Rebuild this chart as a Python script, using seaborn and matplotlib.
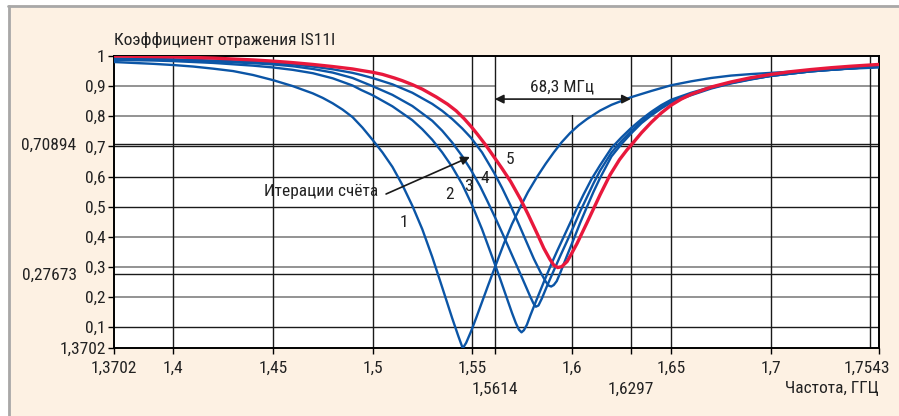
import matplotlib
matplotlib.use("Agg")
import matplotlib.pyplot as plt
import seaborn as sns
import pandas as pd
from matplotlib import font_manager as fm
from matplotlib.patches import Rectangle
from matplotlib.lines import Line2D
from matplotlib.transforms import ScaledTranslation, blended_transform_factory

# ---------------- data ----------------
c1_f = [1.3702, 1.38, 1.39, 1.40, 1.41, 1.42, 1.43, 1.44, 1.45, 1.46, 1.47, 1.475, 1.48, 1.485,
        1.49, 1.495, 1.50, 1.505, 1.51, 1.515, 1.52, 1.525, 1.53, 1.535, 1.54, 1.543, 1.5453,
        1.547, 1.5494, 1.552, 1.555, 1.558, 1.561, 1.566, 1.570, 1.5743, 1.578, 1.5827, 1.587,
        1.591, 1.595, 1.5993, 1.6035, 1.6077, 1.6143, 1.62, 1.6297, 1.64, 1.65, 1.66, 1.67,
        1.68, 1.69, 1.70, 1.72, 1.74, 1.7543]
c1_v = [0.980, 0.977, 0.974, 0.970, 0.965, 0.958, 0.950, 0.937, 0.920, 0.900, 0.876, 0.861, 0.843, 0.822,
        0.797, 0.762, 0.722, 0.680, 0.632, 0.572, 0.503, 0.425, 0.333, 0.232, 0.130, 0.072, 0.030,
        0.048, 0.085, 0.130, 0.184, 0.238, 0.291, 0.378, 0.442, 0.500, 0.548, 0.600, 0.643,
        0.680, 0.714, 0.745, 0.770, 0.791, 0.819, 0.838, 0.863, 0.884, 0.903, 0.916, 0.927,
        0.935, 0.940, 0.944, 0.952, 0.958, 0.962]

c2_f = [1.3702, 1.39, 1.40, 1.42, 1.44, 1.45, 1.46, 1.47, 1.48, 1.49, 1.4944, 1.50, 1.51, 1.52,
        1.525, 1.53, 1.535, 1.54, 1.545, 1.55, 1.555, 1.56, 1.564, 1.567, 1.570, 1.572, 1.5735,
        1.5748, 1.576, 1.5775, 1.5793, 1.582, 1.586, 1.590, 1.5927, 1.596, 1.5993, 1.603, 1.606,
        1.610, 1.6143, 1.62, 1.625, 1.6297, 1.635, 1.64, 1.645, 1.65, 1.66, 1.67, 1.68, 1.69,
        1.70, 1.72, 1.74, 1.7543]
c2_v = [0.987, 0.985, 0.983, 0.977, 0.968, 0.962, 0.954, 0.943, 0.926, 0.902, 0.887, 0.870, 0.833, 0.787,
        0.757, 0.722, 0.680, 0.632, 0.575, 0.505, 0.425, 0.335, 0.262, 0.205, 0.148, 0.113, 0.092,
        0.083, 0.090, 0.108, 0.140, 0.185, 0.250, 0.313, 0.353, 0.400, 0.447, 0.500, 0.541,
        0.592, 0.638, 0.695, 0.730, 0.760, 0.790, 0.815, 0.837, 0.855, 0.878, 0.897, 0.912, 0.924,
        0.934, 0.949, 0.959, 0.965]

c3_f = [1.3702, 1.39, 1.40, 1.42, 1.44, 1.45, 1.46, 1.47, 1.48, 1.49, 1.4944, 1.50, 1.51, 1.52,
        1.53, 1.535, 1.54, 1.545, 1.5494, 1.554, 1.5577, 1.562, 1.566, 1.570, 1.5743, 1.577,
        1.5793, 1.5808, 1.582, 1.5833, 1.585, 1.5877, 1.591, 1.5943, 1.5977, 1.601, 1.6043,
        1.6077, 1.611, 1.6143, 1.62, 1.625, 1.6297, 1.635, 1.64, 1.645, 1.65, 1.66, 1.67, 1.68,
        1.69, 1.70, 1.72, 1.74, 1.7543]
c3_v = [0.990, 0.988, 0.986, 0.982, 0.976, 0.972, 0.966, 0.957, 0.945, 0.927, 0.915, 0.900, 0.871, 0.834,
        0.785, 0.752, 0.713, 0.668, 0.622, 0.568, 0.518, 0.458, 0.400, 0.340, 0.276, 0.235,
        0.200, 0.179, 0.168, 0.172, 0.195, 0.238, 0.288, 0.337, 0.386, 0.435, 0.485,
        0.532, 0.578, 0.620, 0.680, 0.718, 0.750, 0.782, 0.808, 0.831, 0.850, 0.874, 0.894, 0.910,
        0.923, 0.934, 0.949, 0.959, 0.965]

c4_f = [1.3702, 1.39, 1.40, 1.42, 1.44, 1.45, 1.46, 1.47, 1.48, 1.49, 1.4944, 1.50, 1.51, 1.52,
        1.53, 1.535, 1.54, 1.545, 1.5494, 1.555, 1.561, 1.565, 1.5693, 1.5735, 1.5777, 1.581,
        1.5843, 1.587, 1.5885, 1.5897, 1.591, 1.5925, 1.5943, 1.5977, 1.601, 1.6043, 1.6077,
        1.611, 1.6143, 1.62, 1.625, 1.6297, 1.635, 1.64, 1.645, 1.65, 1.66, 1.67, 1.68, 1.69,
        1.70, 1.72, 1.74, 1.7543]
c4_v = [0.992, 0.990, 0.989, 0.985, 0.980, 0.977, 0.972, 0.965, 0.956, 0.944, 0.937, 0.927, 0.906, 0.878,
        0.841, 0.818, 0.791, 0.760, 0.729, 0.680, 0.613, 0.563, 0.504, 0.441, 0.377, 0.327,
        0.283, 0.251, 0.238, 0.235, 0.240, 0.253, 0.281, 0.338, 0.392, 0.447, 0.500,
        0.550, 0.596, 0.667, 0.708, 0.742, 0.777, 0.803, 0.826, 0.846, 0.870, 0.892, 0.909, 0.922,
        0.934, 0.949, 0.959, 0.965]

c5_f = [1.3702, 1.39, 1.40, 1.42, 1.44, 1.45, 1.46, 1.47, 1.48, 1.49, 1.4944, 1.50, 1.505, 1.511,
        1.515, 1.52, 1.525, 1.5277, 1.532, 1.5377, 1.542, 1.546, 1.5495, 1.5527, 1.557, 1.561,
        1.565, 1.5693, 1.5743, 1.578, 1.5827, 1.586, 1.589, 1.591, 1.593, 1.595, 1.5977, 1.600,
        1.6027, 1.6077, 1.6143, 1.6193, 1.624, 1.6277, 1.6297, 1.635, 1.64, 1.645, 1.65, 1.655,
        1.66, 1.67, 1.68, 1.69, 1.70, 1.71, 1.72, 1.73, 1.74, 1.7543]
c5_v = [1.000, 0.998, 0.997, 0.993, 0.987, 0.983, 0.978, 0.972, 0.965, 0.957, 0.952, 0.946, 0.939, 0.927,
        0.918, 0.905, 0.890, 0.880, 0.864, 0.840, 0.818, 0.792, 0.766, 0.740, 0.703, 0.665,
        0.627, 0.584, 0.525, 0.476, 0.410, 0.362, 0.326, 0.306, 0.298, 0.301, 0.318, 0.345,
        0.378, 0.447, 0.540, 0.606, 0.656, 0.688, 0.703, 0.745, 0.780, 0.811, 0.837, 0.857,
        0.873, 0.897, 0.914, 0.928, 0.939, 0.948, 0.955, 0.961, 0.966, 0.972]

x_ticks = [1.3702, 1.4, 1.45, 1.5, 1.55, 1.5614, 1.6, 1.6297, 1.65, 1.7, 1.7543]
x_labels = ["1,3702", "1,4", "1,45", "1,5", "1,55", "", "1,6", "", "1,65", "1,7", "1,7543"]
x_marks = [1.5614, 1.6297]
x_mark_labels = ["1,5614", "1,6297"]
y_ticks = [0.031, 0.1, 0.2, 0.3, 0.4, 0.5, 0.6, 0.7, 0.8, 0.9, 1.0]
y_labels = ["1,3702", "0,1", "0,2", "0,3", "0,4", "0,5", "0,6", "0,7", "0,8", "0,9", "1"]
y_marks = [0.27673, 0.70894]
y_mark_labels = ["0,27673", "0,70894"]
v_grid = [1.4, 1.45, 1.5, 1.55, 1.5614, 1.6, 1.6297, 1.65, 1.7, 1.75]
h_grid_dark = [0.1, 0.27673, 0.5, 0.6, 0.7, 0.70894]
h_grid_gray = [0.2, 0.3, 0.4, 0.8, 0.9]

curve_labels = [("1", 1.5156, 0.449), ("2", 1.5389, 0.539), ("3", 1.5480, 0.566),
                ("4", 1.5565, 0.595), ("5", 1.5690, 0.655)]

# ---------------- style ----------------
sns.set_theme(style="white")
names = {f.name for f in fm.fontManager.ttflist}
stretch = "normal"
if "Liberation Sans Narrow" in names:
    fam = "Liberation Sans Narrow"
elif "Roboto Condensed" in names:
    fam = "Roboto Condensed"
elif any(f.name == "DejaVu Sans" and str(f.stretch) == "condensed" for f in fm.fontManager.ttflist):
    fam = "DejaVu Sans"
    stretch = "condensed"
else:
    fam = "Liberation Sans"
plt.rcParams["font.family"] = [fam, "DejaVu Sans"]
plt.rcParams["font.stretch"] = stretch
FS = 12.5
TXT = "#222222"
BLUE = "#0B55A6"
RED = "#E8183C"

W, H = 899, 416
fig = plt.figure(figsize=(W / 100, H / 100), dpi=100, facecolor="white")
fig.patches.append(Rectangle((8 / W, 0), 1, 1 - 5 / H, transform=fig.transFigure,
                             facecolor="#FDF1E3", edgecolor="none", zorder=-10))
fig.lines.append(Line2D([8.5 / W, 8.5 / W], [0, 1 - 5.5 / H], transform=fig.transFigure,
                        color="#A8A8A8", lw=2))
fig.lines.append(Line2D([8 / W, 1], [1 - 5.5 / H, 1 - 5.5 / H], transform=fig.transFigure,
                        color="#A8A8A8", lw=2))

ax = fig.add_axes([114 / W, 1 - 348 / H, 765 / W, 292 / H])
ax.set_facecolor("white")

for y in h_grid_gray:
    ax.axhline(y, color="#8A8A8A", lw=1.3, zorder=1)
for y in h_grid_dark:
    ax.axhline(y, color="#1A1A1A", lw=1.0, zorder=1)
for x in v_grid:
    ax.axvline(x, color="#1A1A1A", lw=1.0, zorder=1 if x == 1.6 else 1.3)
ax.add_patch(Rectangle((1.5614, 0.803), 1.6297 - 1.5614, 0.2, facecolor="white",
                       edgecolor="none", zorder=1.2))

curves = [(c1_f, c1_v), (c2_f, c2_v), (c3_f, c3_v), (c4_f, c4_v)]
for f, v in curves:
    sns.lineplot(data=pd.DataFrame({"f": f, "v": v}), x="f", y="v", ax=ax, color=BLUE,
                 lw=1.7, estimator=None, sort=False, zorder=3)
sns.lineplot(data=pd.DataFrame({"f": c5_f, "v": c5_v}), x="f", y="v", ax=ax, color=RED,
             lw=2.4, estimator=None, sort=False, zorder=4)

ax.set_xlim(1.3702, 1.7543)
ax.set_ylim(0.031, 1.0)
ax.set_xlabel("")
ax.set_ylabel("")
ax.set_xticks(x_ticks)
ax.set_xticklabels(x_labels)
ax.set_yticks(y_ticks)
ax.set_yticklabels(y_labels)
ax.set_yticks(y_marks, minor=True)
ax.set_yticklabels(y_mark_labels, minor=True)
ax.tick_params(axis="both", which="major", direction="out", length=4, width=1,
               color="black", labelsize=FS, labelcolor=TXT, pad=2, bottom=True, left=True)
ax.tick_params(axis="x", which="major", pad=5.5)
ax.tick_params(axis="y", which="minor", length=0, labelsize=FS, labelcolor=TXT, pad=27, left=True)
last = ax.get_xticklabels()[-1]
last.set_transform(last.get_transform() + ScaledTranslation(-9 / 72, 0, fig.dpi_scale_trans))
for s in ax.spines.values():
    s.set_visible(True)
    s.set_color("black")
    s.set_linewidth(1.4)

bt = blended_transform_factory(ax.transData, ax.transAxes)
for x, t in zip(x_marks, x_mark_labels):
    ax.text(x, -(389 - 348) / 292, t, transform=bt, ha="center", va="center",
            fontsize=FS, color=TXT, clip_on=False)

# annotations
ax.annotate("", xy=(1.6297, 0.857), xytext=(1.5614, 0.857),
            arrowprops=dict(arrowstyle="<|-|>", color="#1A1A1A", lw=1.2, mutation_scale=13,
                            shrinkA=0, shrinkB=0), zorder=5)
ax.text(1.5949, 0.896, "68,3 МГц", ha="center", va="center", fontsize=FS, color=TXT, zorder=5)
ax.annotate("", xy=(1.5489, 0.665), xytext=(1.5068, 0.542),
            arrowprops=dict(arrowstyle="-|>", color="#1A1A1A", lw=1.2, mutation_scale=13,
                            shrinkA=0, shrinkB=0), zorder=5)
ax.text(1.5028, 0.550, "Итерации счёта", ha="right", va="center", fontsize=FS, color=TXT, zorder=5)
for t, x, y in curve_labels:
    ax.text(x, y, t, ha="center", va="center", fontsize=FS, color=TXT, zorder=5)

fig.text(114 / W, 1 - 40 / H, "Коэффициент отражения IS11I", ha="left", va="center",
         fontsize=FS, color=TXT)
fig.text(879 / W, 1 - 389 / H, "Частота, ГГЦ", ha="right", va="center", fontsize=FS, color=TXT)

fig.savefig("out.png", dpi=100, facecolor=fig.get_facecolor())
